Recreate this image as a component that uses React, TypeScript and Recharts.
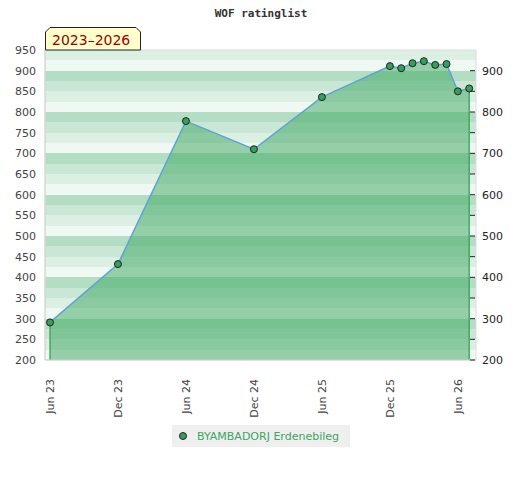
import React from "react";
import {
  ComposedChart,
  Area,
  Line,
  XAxis,
  YAxis,
  CartesianGrid,
  ReferenceLine,
  ReferenceArea,
} from "recharts";

// rating periods (year-month) and the rating at each
const periods = [
  "2023-06", "2023-12", "2024-06", "2024-12", "2025-06", "2025-12",
  "2026-01", "2026-02", "2026-03", "2026-04", "2026-05", "2026-06", "2026-07",
];
const ratings = [291, 432, 778, 710, 836, 911, 906, 918, 923, 914, 916, 850, 857];

const tickPeriods = ["2023-06", "2023-12", "2024-06", "2024-12", "2025-06", "2025-12", "2026-06"];
const tickLabels = ["Jun 23", "Dec 23", "Jun 24", "Dec 24", "Jun 25", "Dec 25", "Jun 26"];

const playerName = "BYAMBADORJ Erdenebileg";
const rangeLabel = "2023\u20132026";
const title = "WOF ratinglist";

const monthIndex = (p: string) => {
  const [y, m] = p.split("-").map(Number);
  return (y - 2023) * 12 + (m - 6);
};

const data = periods.map((p, i) => ({ t: monthIndex(p), rating: ratings[i] }));
const xTicks = tickPeriods.map(monthIndex);

const Y_MIN = 200;
const Y_MAX = 950;
const leftTicks: number[] = [];
for (let v = Y_MIN; v <= Y_MAX; v += 50) leftTicks.push(v);
const rightTicks = leftTicks.filter((v) => v <= 900);
const bandValues: number[] = [];
for (let v = Y_MIN; v <= Y_MAX; v += 25) bandValues.push(v);

const font = "'DejaVu Sans', Verdana, sans-serif";

const XTick = (props: any) => {
  const { x, y, payload } = props;
  const label = tickLabels[xTicks.indexOf(payload.value)];
  return (
    <text
      x={x + 4}
      y={y + 11}
      transform={`rotate(-90, ${x + 4}, ${y + 11})`}
      textAnchor="end"
      fontSize={11}
      fontFamily={font}
      fill="#444"
    >
      {label}
    </text>
  );
};

const RightTick = (props: any) => {
  const { x, y, payload } = props;
  const major = payload.value % 100 === 0;
  return (
    <g>
      <line x1={x - 12} x2={x - 7} y1={y} y2={y} stroke="#222" strokeWidth={1} />
      {major && (
        <text x={x} y={y + 4} fontSize={11} fontFamily={font} fill="#222" textAnchor="start">
          {payload.value}
        </text>
      )}
    </g>
  );
};

export default function App() {
  const first = data[0];
  const last = data[data.length - 1];
  return (
    <div style={{ position: "absolute", left: 0, top: 0, width: 520, height: 480, background: "#fff" }}>
      <ComposedChart
        width={520}
        height={480}
        data={data}
        margin={{ top: 50, right: 0, bottom: 70, left: 0 }}
      >
        <CartesianGrid
          yAxisId="l"
          vertical={false}
          horizontalValues={bandValues}
          horizontalFill={["#dcefe3", "#f0f8f3", "#b3dec3", "#c9e7d4"]}
          stroke="none"
        />
        <XAxis
          dataKey="t"
          type="number"
          domain={[-0.44, 37.6]}
          ticks={xTicks}
          tick={<XTick />}
          tickLine={false}
          axisLine={{ stroke: "#d4d4d4" }}
          height={50}
          interval={0}
          allowDataOverflow
        />
        <YAxis
          yAxisId="l"
          domain={[Y_MIN, Y_MAX]}
          ticks={leftTicks}
          interval={0}
          width={45}
          tickLine={false}
          tickSize={0}
          tickMargin={9}
          axisLine={{ stroke: "#d4d4d4" }}
          tick={{ fontSize: 11, fontFamily: font, fill: "#444" }}
        />
        <YAxis
          yAxisId="r"
          orientation="right"
          domain={[Y_MIN, Y_MAX]}
          ticks={rightTicks}
          interval={0}
          width={44}
          tickLine={false}
          tickSize={0}
          tickMargin={6}
          axisLine={false}
          tick={<RightTick />}
        />
        <ReferenceArea
          yAxisId="l"
          y1={Y_MIN}
          y2={Y_MAX}
          fill="none"
          stroke="#dcdcdc"
          strokeWidth={1}
        />
        <Area
          yAxisId="l"
          type="linear"
          dataKey="rating"
          baseValue={Y_MIN}
          fill="#3aa65e"
          fillOpacity={0.5}
          stroke="#5fa3d6"
          strokeWidth={1.5}
          dot={{ r: 3.5, fill: "#35a05a", stroke: "#222", strokeWidth: 1, fillOpacity: 1 }}
          activeDot={false}
          isAnimationActive={false}
        />
        <Line
          yAxisId="r"
          dataKey="rating"
          stroke="none"
          dot={false}
          activeDot={false}
          isAnimationActive={false}
        />
        <ReferenceLine
          yAxisId="l"
          segment={[{ x: first.t, y: Y_MIN }, { x: first.t, y: first.rating - 8 }]}
          stroke="#2f9e4f"
          strokeWidth={1.2}
        />
        <ReferenceLine
          yAxisId="l"
          segment={[{ x: last.t, y: Y_MIN }, { x: last.t, y: last.rating - 8 }]}
          stroke="#2f9e4f"
          strokeWidth={1.2}
        />
      </ComposedChart>
      <svg
        width={520}
        height={60}
        style={{ position: "absolute", left: 0, top: 0, pointerEvents: "none" }}
      >
        <text
          x={261}
          y={17}
          textAnchor="middle"
          fontFamily="'DejaVu Sans Mono', monospace"
          fontWeight="bold"
          fontSize={11}
          fill="#333"
        >
          {title}
        </text>
        <path
          d="M45.5,50 L45.5,32 L50,27.5 L136,27.5 L140.5,32 L140.5,50 Z"
          fill="#ffffcc"
          stroke="#222"
          strokeWidth={1}
        />
        <text x={52} y={45} fontFamily={font} fontSize={14} fill="#990000">
          {rangeLabel}
        </text>
      </svg>
      <div
        style={{
          position: "absolute",
          left: 172,
          top: 425,
          background: "#efefef",
          width: 178,
          height: 22,
          display: "flex",
          alignItems: "center",
          fontFamily: font,
          fontSize: 11,
          color: "#3aa65e",
        }}
      >
        <svg width={22} height={22}>
          <circle cx={11} cy={11} r={3.5} fill="#35a05a" stroke="#222" strokeWidth={1} />
        </svg>
        <span style={{ marginLeft: 3 }}>{playerName}</span>
      </div>
    </div>
  );
}
